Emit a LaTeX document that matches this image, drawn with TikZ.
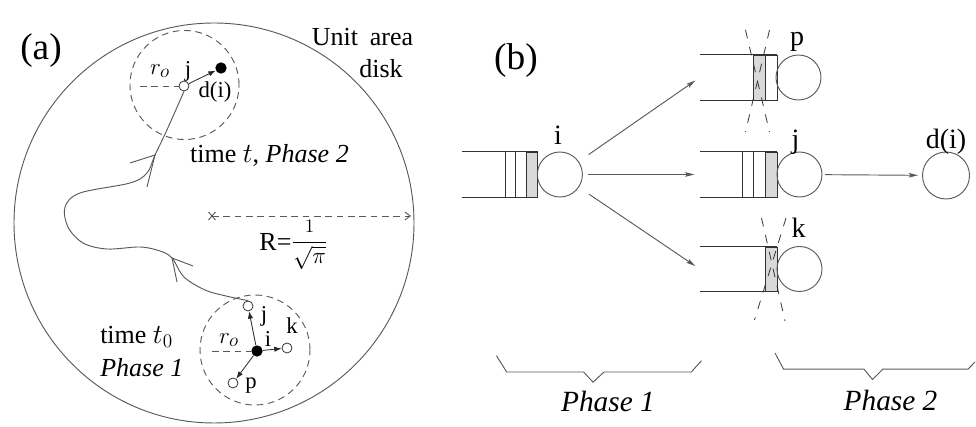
\documentclass[tikz,border=0pt]{standalone}
\usepackage{fontspec}
\setmainfont{Liberation Serif}
\usetikzlibrary{arrows.meta}
\definecolor{lnc}{gray}{0.35}
\definecolor{qfill}{gray}{0.85}
\begin{document}
\begin{tikzpicture}[x=0.75pt,y=-0.75pt,
  thinln/.style={draw=lnc, line width=0.7pt},
  qline/.style={draw=black!80, line width=0.7pt},
  dashln/.style={draw=lnc, line width=0.7pt, dash pattern=on 5pt off 3.5pt},
  xdash/.style={draw=black!80, line width=0.6pt, dash pattern=on 6.5pt off 6.5pt},
  opendot/.style={circle, draw=black!80, line width=0.6pt, fill=white, inner sep=0pt, minimum size=7.5pt},
  filldot/.style={circle, fill=black, inner sep=0pt, minimum size=8.5pt},
  server/.style={circle, draw=lnc, line width=0.7pt, inner sep=0pt, minimum size=33.75pt},
  qarea/.style={rectangle, inner sep=0pt, minimum width=57.75pt, minimum height=33.75pt},
  smallarr/.style={draw=black!85, line width=0.6pt, -{Latex[length=5.5pt,width=4pt]}},
  flowarr/.style={draw=lnc, line width=0.7pt, -{Stealth[length=7pt,width=3.5pt,inset=1.5pt]}},
  biglab/.style={font=\fontsize{28}{30}\selectfont, inner sep=0pt},
  alab/.style={font=\fontsize{19.5}{22}\selectfont, inner sep=0pt},
  slab/.style={font=\fontsize{17}{19}\selectfont, inner sep=0pt},
  blab/.style={font=\fontsize{21}{24}\selectfont, inner sep=0pt},
  phlab/.style={font=\fontsize{22}{24}\selectfont\itshape, inner sep=0pt},
]
\useasboundingbox (0,0) rectangle (976,427);

% ---------------- (a) ----------------
\node[biglab] (la) at (41,51) {(a)};
\draw[thinln] (214,223) circle[radius=150pt];
\node[alab] (unit) at (362.5,37) {Unit\hspace{0.45em}area};
\node[alab] (disk) at (381,69) {disk};

% top neighbourhood (phase 2)
\draw[dashln] (184.5,85) circle[radius=40.9pt];
\node[opendot] (jt) at (184,86) {};
\node[filldot] (dt) at (221,68) {};
\coordinate (rt) at (140,86);
\draw[dashln] (rt) -- (jt.west);
\draw[smallarr] (jt) -- (dt);
\node[slab] (ljt) at (188,71) {j};
\node[slab] (ldt) at (215,92) {d(i)};
\node[slab, font=\fontsize{19}{20}\selectfont] (lrt) at (160,71) {$r_o$};
\node[alab] (ltime2) at (269.5,155) {time $t$, \textit{Phase 2}};

% bottom neighbourhood (phase 1)
\draw[dashln] (255,350) circle[radius=41.25pt];
\node[filldot] (ib) at (257,351) {};
\node[opendot] (jb) at (248,306) {};
\node[opendot] (kb) at (287,348) {};
\node[opendot] (pb) at (233,383) {};
\coordinate (rb) at (212,351);
\draw[dashln] (rb) -- (ib.west);
\draw[smallarr] (ib) -- (jb);
\draw[smallarr] (ib) -- (kb);
\draw[smallarr] (ib) -- (pb);
\node[slab] (ljb) at (264,316) {j};
\node[slab] (lib) at (268,339) {i};
\node[slab] (lkb) at (292,326) {k};
\node[slab] (lpb) at (251,386) {p};
\node[slab, font=\fontsize{19}{20}\selectfont] (lrb) at (229,340) {$r_o$};
\node[alab, anchor=west] (ltime1) at (100,337) {time $t_0$};
\node[alab, anchor=west] (lph1a) at (100,368) {\textit{Phase 1}};

% movement path
\draw[thinln] plot[smooth, tension=0.55] coordinates {(jb.north) (226,296) (205,290) (184,277) (172,258) (160,251) (140,247) (107,249) (83,243) (68,227) (65,207) (80,193) (130,183) (147,173) (155,155) (166,132) (jt.south)};
\draw[thinln] (193,266) -- (172,258) -- (177,282);
\draw[thinln] (130,163) -- (155,155) -- (147,187);

% radius
\coordinate (rx) at (212,216);
\coordinate (rend) at (411,216);
\draw[thinln] (208.5,212) -- (215.5,220) (208.5,220) -- (215.5,212);
\draw[dashln, -{Straight Barb[length=4pt,width=6pt]}] (rx) -- (rend);
\node[alab] (lR) at (293.5,245) {R=\raisebox{2pt}{\fontsize{17.28}{20}\selectfont$\displaystyle\frac{\mbox{\fontsize{14.4}{16}\selectfont$1$}}{\sqrt{\pi}}$}};

% ---------------- (b) ----------------
\node[biglab] (lb) at (516,61) {(b)};

% queue i
\node[qarea, minimum width=56.5pt] (qi) at (499.7,174.5) {};
\draw[qline] (qi.north west) -- (qi.north east) (qi.south west) -- (qi.south east);
\draw[qline] (505,152) -- (505,197) (515,152) -- (515,197);
\draw[qline, fill=qfill] (526.5,152) rectangle (537.4,197);
\node[server] (si) at (559.9,174.5) {};
\node[blab] (lsi) at (558,135) {i};

% queue p
\node[qarea] (qp) at (738.5,77.5) {};
\draw[qline] (qp.north west) -- (qp.north east) (qp.south west) -- (qp.south east);
\draw[qline, fill=qfill] (753.5,55) rectangle (765.5,100);
\draw[qline] (765.5,55) rectangle (777,100);
\node[server] (sp) at (798.5,77.5) {};
\node[blab] (lsp) at (797,42) {p};
\draw[xdash] (745.5,30) -- (769.5,132);
\draw[xdash] (769.5,30) -- (745.5,132);

% queue j
\node[qarea] (qj) at (738.5,174.5) {};
\draw[qline] (qj.north west) -- (qj.north east) (qj.south west) -- (qj.south east);
\draw[qline] (742.6,152) -- (742.6,197) (753.5,152) -- (753.5,197);
\draw[qline, fill=qfill] (765.5,152) rectangle (777,197);
\node[server] (sj) at (799.5,174.5) {};
\node[blab] (lsj) at (795.5,142) {j};

% queue k
\node[qarea] (qk) at (738.5,269) {};
\draw[qline] (qk.north west) -- (qk.north east) (qk.south west) -- (qk.south east);
\draw[qline, fill=qfill] (765.5,247) rectangle (777,291);
\node[server] (sk) at (799.5,269) {};
\node[blab] (lsk) at (798.5,228) {k};
\draw[xdash] (761.5,218) -- (785,321);
\draw[xdash] (786,218) -- (754.5,320);

% destination
\node[server, minimum size=35.25pt] (sd) at (946,175.5) {};
\node[blab] (lsd) at (946,142) {d(i)};

% arrows
\draw[flowarr, shorten <=9pt, shorten >=4pt] (si) -- (qp.west);
\draw[flowarr, shorten <=3.75pt, shorten >=4pt] (si) -- (qj.west);
\draw[flowarr, shorten <=9pt, shorten >=4pt] (si) -- (qk.west);
\draw[flowarr, shorten <=2pt, shorten >=3pt] (sj) -- (sd);

% braces
\draw[thinln] (496.4,355.6) -- (506.7,372) -- (583.6,372) -- (593,382.2) -- (604,372) -- (691.3,372) -- (701.5,360.7);
\draw[thinln] (775,353) -- (783.6,369.2) -- (864,369.2) -- (872.5,379.5) -- (882.7,369.2) -- (968,369.2) -- (975,362);
\node[phlab] (ph1) at (608,401.7) {Phase 1};
\node[phlab] (ph2) at (890.5,400) {Phase 2};
\end{tikzpicture}
\end{document}
